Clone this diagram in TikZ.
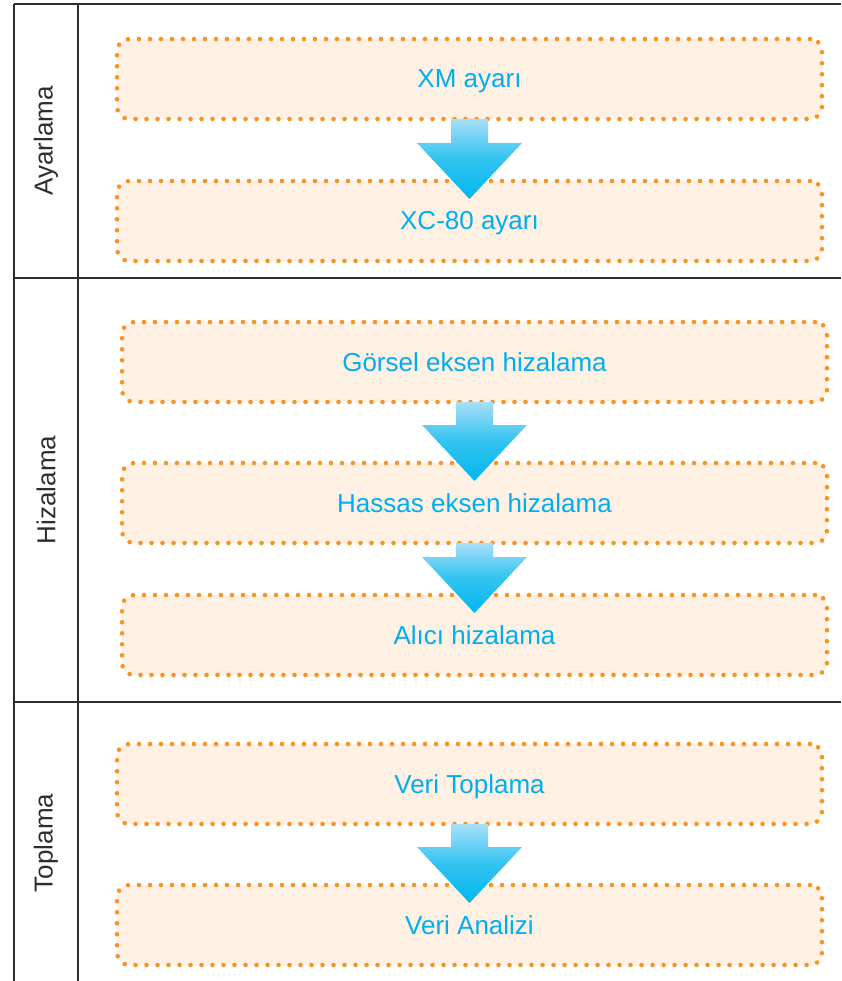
\documentclass[tikz,border=0pt]{standalone}
\usepackage{fontspec}
\setmainfont{Liberation Sans}
\usetikzlibrary{positioning, calc}
\definecolor{dotorange}{RGB}{247, 148, 38}
\definecolor{boxfill}{RGB}{254, 241, 227}
\definecolor{procblue}{RGB}{0, 174, 239}
\definecolor{arrowtop}{RGB}{168, 223, 247}
\definecolor{arrowbot}{RGB}{0, 183, 238}
\definecolor{rulegray}{RGB}{45, 45, 45}

% block arrow from one step box down into the next
\newcommand{\flowarrow}[2]{%
  \shade[top color=arrowtop, bottom color=arrowbot,
         middle color=arrowbot!70!arrowtop]
    let \p1=(#1.south), \p2=(#2.north) in
    (\x1-18.5pt,\y1+2pt) -- (\x1+18.5pt,\y1+2pt)
    -- (\x1+18.5pt,\y2+36pt) -- (\x1+52.5pt,\y2+36pt)
    -- (\x1,\y2-20pt) -- (\x1-52.5pt,\y2+36pt)
    -- (\x1-18.5pt,\y2+36pt) -- cycle;}

\begin{document}
\begin{tikzpicture}[
    x=1pt, y=-1pt,
    node distance=58pt,
    stepbox/.style={
        rectangle, rounded corners=12pt, fill=boxfill,
        draw=dotorange, line width=4.6pt, dash pattern=on 0pt off 11pt,
        line cap=round, minimum width=705pt, minimum height=80pt,
        inner sep=0pt, outer sep=2pt, text height=19pt, text depth=1pt,
        text=procblue, font=\fontsize{26}{30}\selectfont
    },
    lane/.style={
        rotate=90, text=rulegray, font=\fontsize{26}{30}\selectfont
    },
    laneline/.style={line width=2.6pt, draw=rulegray},
]
\useasboundingbox (0,0) rectangle (841,981);

% Lane frame
\draw[laneline] (14,4) -- (841,4);
\draw[laneline] (14,4) -- (14,990);
\draw[laneline] (78,4) -- (78,990);
\draw[laneline] (14,278) -- (841,278);
\draw[laneline] (14,702) -- (841,702);

% Lane titles
\node[lane] (ayar)  at (46,141) {Ayarlama};
\node[lane] (hiza)  at (46,490) {Hizalama};
\node[lane] (topla) at (46,843) {Toplama};

% Ayarlama lane
\node[stepbox] (xm) at (469.5,79) {XM ayarı};
\node[stepbox, below=of xm] (xc) {XC-80 ayarı};

% Hizalama lane
\node[stepbox] (gorsel) at (474.5,362) {Görsel eksen hizalama};
\node[stepbox, below=57pt of gorsel] (hassas) {Hassas eksen hizalama};
\node[stepbox, below=48pt of hassas] (alici) {Alıcı hizalama};

% Toplama lane
\node[stepbox] (veri) at (469.5,784) {Veri Toplama};
\node[stepbox, below=57pt of veri] (analiz) {Veri Analizi};

% Flow arrows
\flowarrow{xm}{xc}
\flowarrow{gorsel}{hassas}
\flowarrow{hassas}{alici}
\flowarrow{veri}{analiz}

\end{tikzpicture}
\end{document}
